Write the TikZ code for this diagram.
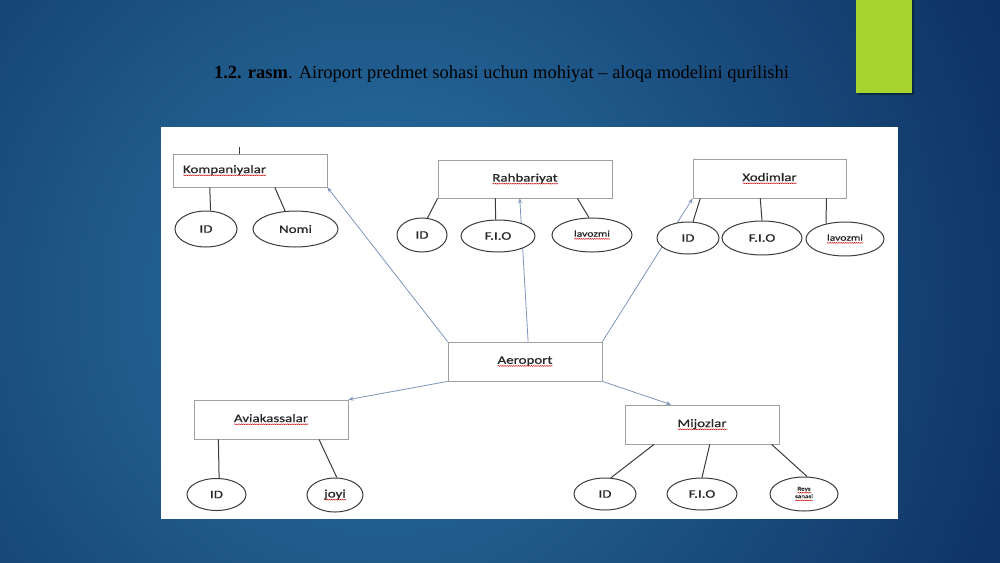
\documentclass[tikz,border=0pt]{standalone}
\usepackage{fontspec}
\setmainfont{Liberation Serif}
\newfontfamily\erfont[FakeStretch=1.3,FakeBold=0.6]{Carlito}
\usetikzlibrary{shapes.geometric}
\usetikzlibrary{arrows.meta}
\usetikzlibrary{calc}
\usetikzlibrary{decorations.pathmorphing}
\definecolor{slidedark}{HTML}{0C2E60}
\definecolor{slidelight}{HTML}{2A74A4}
\definecolor{accentgreen}{HTML}{A8D430}
\definecolor{boxgray}{HTML}{A0A0A0}
\definecolor{attrgray}{HTML}{3C3C3C}
\definecolor{linkblue}{HTML}{7F96BC}
\newcommand{\spell}[1]{\leavevmode\setbox0=\hbox{#1}\rlap{\tikz[baseline=0pt]\draw[red!80!black,line width=0.45pt,decorate,decoration={snake,amplitude=0.45pt,segment length=2.2pt}] (0pt,-2.2pt) -- (\wd0,-2.2pt);}\box0}

\begin{document}
\begin{tikzpicture}[x=1pt,y=-1pt,
  entity/.style={draw=boxgray,line width=0.8pt,fill=white,inner sep=0pt,text=black!85,font=\erfont\fontsize{11.5}{13}\selectfont},
  attr/.style={ellipse,draw=attrgray,line width=1pt,fill=white,inner sep=0pt,text=black!85,font=\erfont\fontsize{11.5}{13}\selectfont},
  has/.style={draw=attrgray,line width=1pt},
  link/.style={draw=linkblue,line width=0.8pt,-{Stealth[length=5pt,width=4pt]}}]
  \useasboundingbox (0,0) rectangle (1000,562);
  \fill[slidedark] (0,0) rectangle (1000,562);
  \begin{scope}
    \clip (0,0) rectangle (1000,562);
    \shade[inner color=slidelight,outer color=slidedark] (380,300) circle (720);
  \end{scope}
  \fill[black,opacity=0.35] (858,0) rectangle (914,95);
  \fill[accentgreen] (856,0) rectangle (912,93);
  \node[font=\fontsize{18.5}{22}\selectfont,text=black] (title) at (501.5,74) {\textbf{1.2. rasm}. Airoport predmet sohasi uchun mohiyat – aloqa modelini qurilishi};
  \fill[white] (161,127) rectangle (898,519);

  \node[entity,minimum width=154pt,minimum height=33pt,text width=134pt,inner xsep=10pt,align=left] (komp) at (250,170.5) {\spell{Kompaniyalar}};
  \node[entity,minimum width=174pt,minimum height=38pt] (rahb) at (525,179) {\spell{Rahbariyat}};
  \node[entity,minimum width=153pt,minimum height=39pt] (xod) at (769.5,178.5) {\spell{Xodimlar}};
  \node[entity,minimum width=154pt,minimum height=39pt] (aero) at (525,361.5) {\spell{Aeroport}};
  \node[entity,minimum width=154pt,minimum height=39pt] (avia) at (271,419.5) {\spell{Aviakassalar}};
  \node[entity,minimum width=154pt,minimum height=39pt] (mij) at (702,424.5) {\spell{Mijozlar}};
  \coordinate (komp-tick) at (239,147);
  \draw[has] (komp-tick) -- (komp-tick |- komp.north);

  \draw[link] (aero.north west) -- (komp.south east);
  \draw[link] ($(aero.north west)!.52!(aero.north east)$) -- ($(rahb.south west)!.47!(rahb.south east)$);
  \draw[link] (aero.north east) -- (xod.south west);
  \draw[link] (aero.south west) -- (avia.north east);
  \draw[link] (aero.south east) -- ($(mij.north west)!.3!(mij.north east)$);

  \node[attr,minimum width=62pt,minimum height=36pt] (komp-id) at (206,229) {ID};
  \node[attr,minimum width=85pt,minimum height=36pt] (komp-nomi) at (295.5,229) {Nomi};
  \node[attr,minimum width=50pt,minimum height=34pt] (rahb-id) at (422,235) {ID};
  \node[attr,minimum width=74pt,minimum height=32pt] (rahb-fio) at (498,236) {F.I.O};
  \node[attr,minimum width=80pt,minimum height=34pt,font=\erfont\fontsize{9}{10}\selectfont] (rahb-lav) at (592,235) {\spell{lavozmi}};
  \node[attr,minimum width=62pt,minimum height=32pt] (xod-id) at (688,238) {ID};
  \node[attr,minimum width=80pt,minimum height=34pt] (xod-fio) at (762,238) {F.I.O};
  \node[attr,minimum width=78pt,minimum height=34pt,font=\erfont\fontsize{9}{10}\selectfont] (xod-lav) at (845,239) {\spell{lavozmi}};
  \node[attr,minimum width=59pt,minimum height=32pt] (avia-id) at (216.5,494.5) {ID};
  \node[attr,minimum width=56pt,minimum height=34pt] (avia-joyi) at (335,495) {\spell{joyi}};
  \node[attr,minimum width=62pt,minimum height=32pt] (mij-id) at (605,494) {ID};
  \node[attr,minimum width=70pt,minimum height=32pt] (mij-fio) at (702,494) {F.I.O};
  \node[attr,minimum width=68pt,minimum height=34pt,align=center,font=\erfont\fontsize{5.5}{6.5}\selectfont] (mij-reys) at (804,494) {\spell{Reys}\\\spell{sanasi}};

  \draw[has] ($(komp.south west)!.24!(komp.south east)$) -- (komp-id.76);
  \draw[has] ($(komp.south west)!.66!(komp.south east)$) -- (komp-nomi.120);
  \draw[has] (rahb.south west) -- (rahb-id.72);
  \draw[has] ($(rahb.south west)!.33!(rahb.south east)$) -- (rahb-fio.98);
  \draw[has] ($(rahb.south west)!.80!(rahb.south east)$) -- (rahb-lav.100);
  \draw[has] ($(xod.south west)!.05!(xod.south east)$) -- (xod-id.73);
  \draw[has] ($(xod.south west)!.44!(xod.south east)$) -- (xod-fio.90);
  \draw[has] ($(xod.south west)!.87!(xod.south east)$) -- (xod-lav.141);
  \draw[has] ($(avia.south west)!.16!(avia.south east)$) -- (avia-id.81);
  \draw[has] ($(avia.south west)!.81!(avia.south east)$) -- (avia-joyi.84);
  \draw[has] ($(mij.south west)!.19!(mij.south east)$) -- (mij-id.70);
  \draw[has] ($(mij.south west)!.55!(mij.south east)$) -- (mij-fio.90);
  \draw[has] ($(mij.south west)!.95!(mij.south east)$) -- (mij-reys.80);
\end{tikzpicture}
\end{document}
